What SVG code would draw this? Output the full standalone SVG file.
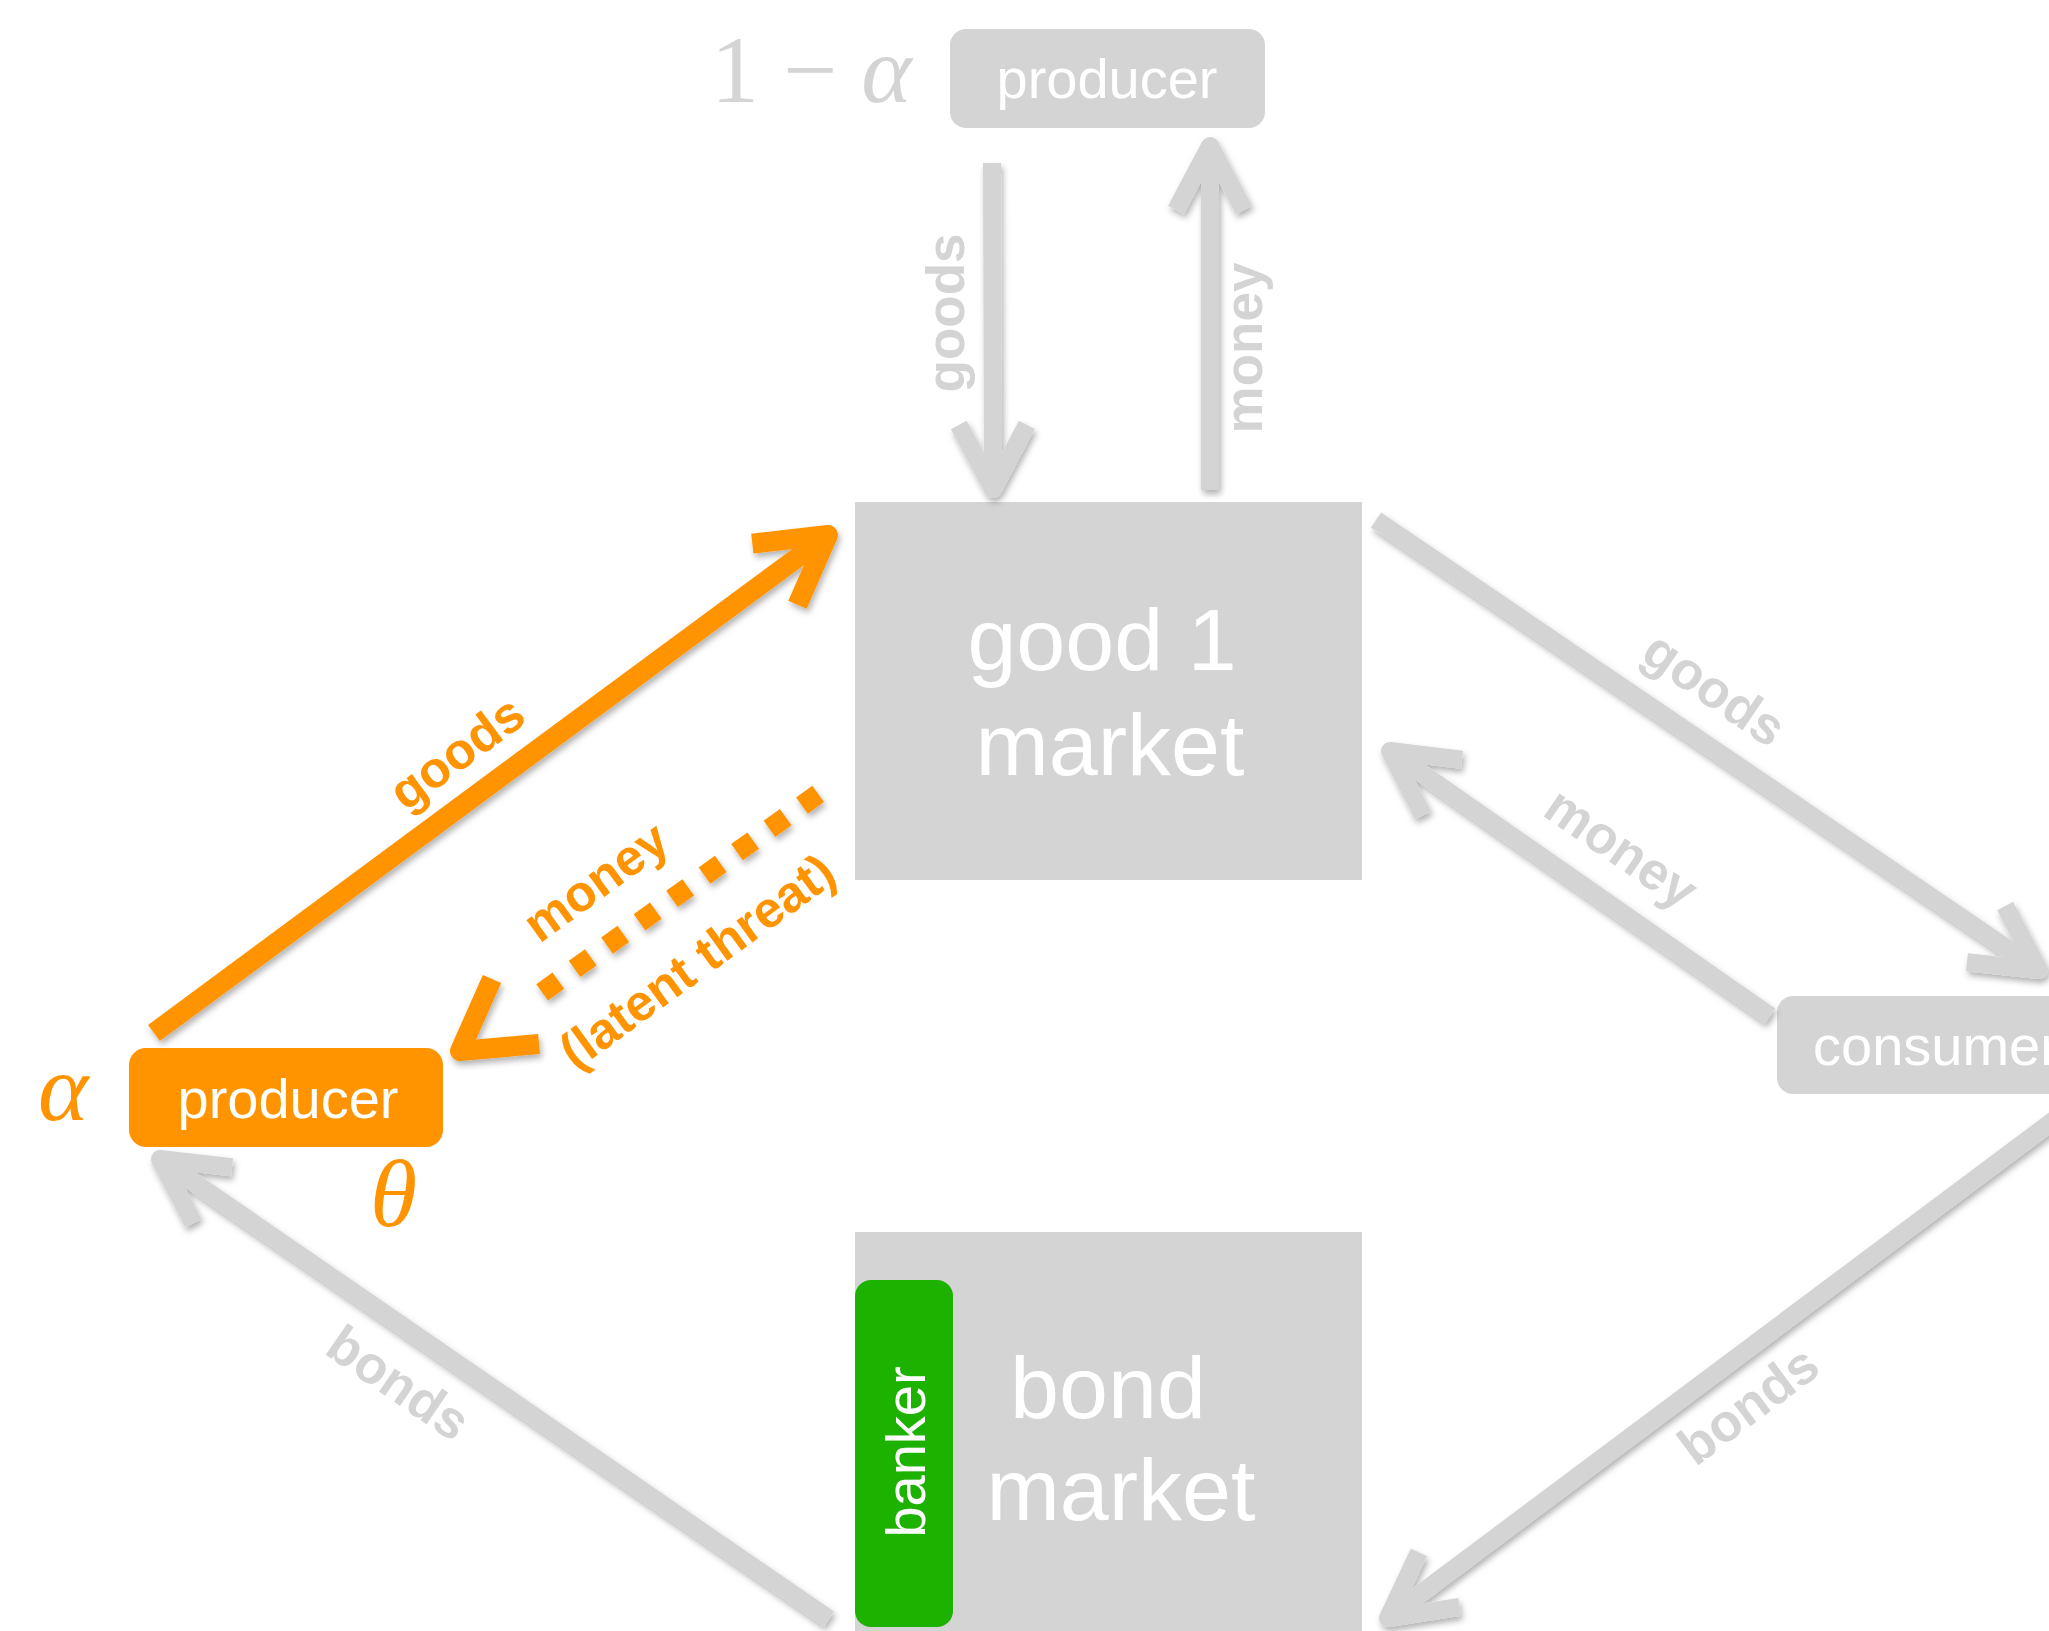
<svg xmlns="http://www.w3.org/2000/svg" width="2049" height="1631" viewBox="0 0 2049 1631">
  <style>
    .box { fill: #d4d4d4; }
    .boxtxt { font-family: "Liberation Sans", Arial, sans-serif; fill: #ffffff; font-size: 56px; text-anchor: middle; }
    .bigtxt { font-family: "Liberation Sans", Arial, sans-serif; fill: #ffffff; font-size: 88px; text-anchor: middle; }
    .math { font-family: "Liberation Serif", "Times New Roman", serif; font-size: 96px; }
    .gline { stroke: #d4d4d4; stroke-width: 18; fill: none; }
    .oline { stroke: #ff9300; stroke-width: 20; fill: none; }
    .odot { stroke: #ff9300; stroke-width: 20; fill: none; stroke-dasharray: 20 20; stroke-dashoffset: 20; }
    .ohead { stroke: #ff9300; stroke-width: 20; fill: none; stroke-linejoin: round; }
    .glabel { font-family: "Liberation Sans", Arial, sans-serif; font-weight: bold; font-size: 53px; fill: #d4d4d4; text-anchor: middle; }
    .olabel { font-family: "Liberation Sans", Arial, sans-serif; font-weight: bold; font-size: 51px; fill: #ff9300; text-anchor: middle; }
  </style>
  <defs>
    <filter id="shadow" x="-10%" y="-10%" width="120%" height="120%">
      <feDropShadow dx="2" dy="4" stdDeviation="3" flood-color="#000" flood-opacity="0.3"/>
    </filter>
    <marker id="gchev" markerUnits="userSpaceOnUse" orient="auto" refX="0" refY="0" markerWidth="120" markerHeight="120" overflow="visible">
      <path d="M-64,-34 L0,0 L-64,34" fill="none" stroke="#d4d4d4" stroke-width="18" stroke-linejoin="round"/>
    </marker>
    <marker id="ochev" markerUnits="userSpaceOnUse" orient="auto" refX="0" refY="0" markerWidth="120" markerHeight="120" overflow="visible">
      <path d="M-66,-38 L0,0 L-66,38" fill="none" stroke="#ff9300" stroke-width="20" stroke-linejoin="round"/>
    </marker>
  </defs>

  <rect width="2049" height="1631" fill="#ffffff"/>

  <!-- nodes -->
  <g id="good1-market">
    <rect class="box" x="855" y="502" width="507" height="378"/>
    <text class="bigtxt" x="1102" y="670">good 1</text>
    <text class="bigtxt" x="1110" y="775">market</text>
  </g>

  <g id="bond-market">
    <rect class="box" x="855" y="1232" width="507" height="420"/>
    <text class="bigtxt" x="1108" y="1418">bond</text>
    <text class="bigtxt" x="1121" y="1520">market</text>
  </g>

  <g id="banker">
    <rect x="855" y="1280" width="98" height="347" rx="16" fill="#1db100"/>
    <text class="boxtxt" transform="translate(906,1452) rotate(-90)" x="0" y="19">banker</text>
  </g>

  <g id="producer-top">
    <text class="math" x="711" y="102" fill="#d4d4d4">1 − <tspan font-style="italic">α</tspan></text>
    <rect class="box" x="950" y="29" width="315" height="99" rx="16"/>
    <text class="boxtxt" x="1107" y="98">producer</text>
  </g>

  <g id="producer-alpha">
    <text class="math" x="38" y="1120" fill="#ff9300" font-style="italic">α</text>
    <rect x="129" y="1048" width="314" height="99" rx="17" fill="#ff9300"/>
    <text class="boxtxt" x="288" y="1118">producer</text>
    <text class="math" x="370" y="1226" fill="#ff9300" font-style="italic">θ</text>
  </g>

  <g id="consumer">
    <rect class="box" x="1777" y="996" width="320" height="98" rx="16"/>
    <text class="boxtxt" x="1813" y="1065" style="text-anchor:start">consumer</text>
  </g>

  <!-- connectors -->
  <g id="connectors" filter="url(#shadow)">
    <line class="gline" x1="992" y1="163" x2="993" y2="489" marker-end="url(#gchev)"/>
    <line class="gline" x1="1210" y1="490" x2="1210" y2="146" marker-end="url(#gchev)"/>
    <line class="gline" x1="1376" y1="520" x2="2039" y2="970" marker-end="url(#gchev)"/>
    <line class="gline" x1="1770" y1="1016" x2="1390" y2="751" marker-end="url(#gchev)"/>
    <line class="gline" x1="829" y1="1619" x2="160" y2="1159" marker-end="url(#gchev)"/>
    <line class="gline" x1="2062" y1="1114" x2="1388" y2="1618" marker-end="url(#gchev)"/>
    <line class="oline" x1="154" y1="1033" x2="828" y2="535" marker-end="url(#ochev)"/>
    <line class="odot" x1="834.4" y1="782.2" x2="542" y2="992.4"/>
    <path class="ohead" d="M492,979 L460,1051 L539,1044"/>
  </g>

  <!-- connector labels -->
  <g id="labels">
    <text class="glabel" transform="translate(952,313) rotate(-90)" x="0" y="12">goods</text>
    <text class="glabel" transform="translate(1250,348) rotate(-90)" x="0" y="12">money</text>
    <text class="glabel" transform="translate(1711,694) rotate(34.5)" x="0" y="12">goods</text>
    <text class="glabel" transform="translate(1618,853) rotate(34.5)" x="0" y="12">money</text>
    <text class="glabel" transform="translate(395,1388) rotate(34.5)" x="0" y="12">bonds</text>
    <text class="glabel" transform="translate(1752,1410) rotate(-36.8)" x="0" y="12">bonds</text>
    <text class="olabel" transform="translate(460,757) rotate(-36.5)" x="0" y="12">goods</text>
    <text class="olabel" transform="translate(599,886) rotate(-36)" x="0" y="12">money</text>
    <text class="olabel" transform="translate(699,964) rotate(-36)" x="0" y="14">(latent threat)</text>
  </g>
</svg>
